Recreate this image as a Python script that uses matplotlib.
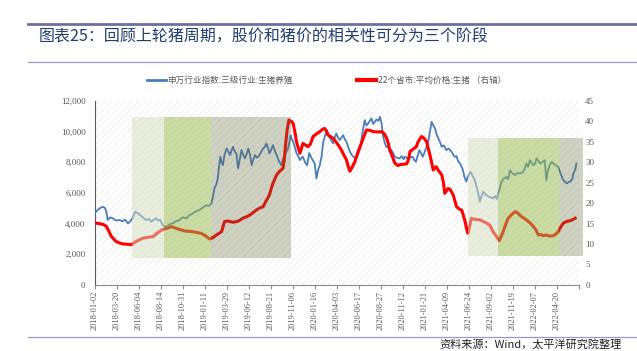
import matplotlib
matplotlib.use('Agg')
import matplotlib.pyplot as plt
from matplotlib.patches import Rectangle
from matplotlib.lines import Line2D
from matplotlib.ticker import FuncFormatter

plt.rcParams['font.family'] = ['Noto Sans CJK SC', 'DejaVu Sans']
plt.rcParams['hatch.linewidth'] = 0.5

# 横轴标签（按交易日序号，每52个交易日一个）
date_labels = ['2018-01-02', '2018-03-20', '2018-06-04', '2018-08-14', '2018-10-31',
               '2019-01-11', '2019-03-29', '2019-06-12', '2019-08-21', '2019-11-06',
               '2020-01-16', '2020-04-03', '2020-06-17', '2020-08-27', '2020-11-12',
               '2021-01-21', '2021-04-09', '2021-06-24', '2021-09-02', '2021-11-19',
               '2022-02-07', '2022-04-20']
label_step = 52

# 申万行业指数:三级行业:生猪养殖（左轴）
stock_day = [0, 6, 12, 20, 25, 28, 31, 37, 43, 50, 59, 66, 72, 79, 87, 92, 96, 103, 110, 116,
             122, 128, 134, 140, 146, 150, 155, 161, 166, 170, 177, 185, 192, 201, 208, 217, 224, 232, 240, 248,
             256, 264, 270, 276, 280, 283, 287, 291, 294, 297, 300, 303, 307, 312, 316, 320, 324, 327, 331, 335,
             339, 343, 347, 351, 355, 359, 363, 367, 371, 375, 379, 383, 387, 392, 398, 402, 406, 410, 413, 417,
             421, 425, 430, 435, 441, 445, 449, 453, 457, 460, 463, 466, 469, 473, 477, 481, 485, 489, 492, 497,
             502, 507, 512, 516, 520, 524, 528, 532, 536, 540, 548, 552, 556, 560, 563, 567, 571, 575, 579, 583,
             587, 591, 595, 599, 603, 607, 611, 615, 618, 622, 627, 632, 638, 642, 646, 650, 654, 658, 662, 666,
             670, 674, 678, 681, 685, 689, 693, 697, 701, 705, 709, 713, 720, 725, 730, 733, 737, 741, 745, 751,
             755, 759, 763, 767, 771, 775, 780, 784, 788, 792, 796, 800, 804, 808, 812, 816, 820, 825, 831, 836,
             843, 847, 851, 855, 858, 863, 867, 870, 874, 878, 882, 888, 893, 898, 903, 906, 910, 914, 918, 923,
             930, 936, 941, 946, 950, 953, 957, 961, 966, 973, 977, 981, 986, 993, 998, 1005, 1012, 1016, 1020, 1024,
             1028, 1031, 1036, 1040, 1044, 1048, 1052, 1057, 1063, 1067, 1071, 1075, 1079, 1084, 1095, 1100, 1107, 1115, 1119, 1123,
             1128, 1131, 1136, 1138]
stock_val = [4660, 4850, 4990, 5100, 5000, 4770, 4230, 4400, 4340, 4200, 4230, 4150, 4250, 4010, 4230, 4500, 4770, 4660, 4500, 4350,
             4230, 4300, 4120, 4250, 4340, 4200, 4230, 3900, 3800, 3790, 3950, 4010, 4150, 4230, 4400, 4340, 4550, 4660, 4800, 4880,
             5050, 5200, 5150, 5320, 5800, 6290, 6500, 6940, 7700, 8360, 8000, 7810, 8500, 8900, 8700, 8470, 8800, 9010, 8700, 8580,
             7600, 8200, 8790, 8500, 8250, 8500, 8900, 8500, 7810, 8200, 8470, 8300, 8360, 8600, 8900, 9000, 9230, 8900, 8580, 8800,
             9120, 8800, 8470, 8100, 7810, 8200, 8470, 8700, 8900, 9300, 9770, 9500, 9340, 9000, 8580, 8400, 8140, 8300, 8360, 8000,
             7800, 8600, 8300, 8100, 7900, 6940, 7500, 7810, 8360, 9300, 10100, 9800, 9560, 9400, 9230, 9600, 9880, 9600, 9450, 9600,
             9770, 9500, 9340, 9000, 8690, 8500, 8360, 8300, 8250, 8500, 8900, 9800, 10750, 10400, 10530, 10700, 10870, 10500, 10640, 10800,
             10700, 10970, 10500, 9770, 9300, 9010, 9000, 8900, 8790, 8600, 8360, 8300, 8250, 8400, 8200, 8360, 8300, 8140, 8300, 8360,
             8150, 8030, 8400, 8790, 8600, 8360, 8700, 9000, 9340, 10000, 10640, 10400, 10200, 9800, 9560, 9300, 9010, 9100, 8790, 8900,
             8690, 8500, 8360, 8400, 8100, 7920, 7700, 7480, 7000, 6730, 7100, 7370, 7100, 6830, 6300, 6000, 5420, 5800, 6080, 5900,
             5760, 5700, 5640, 5800, 5600, 5970, 6300, 6730, 6900, 7050, 6900, 7480, 7300, 7160, 7300, 7270, 7370, 7600, 7920, 7700,
             8140, 8000, 7810, 7900, 8250, 8100, 7920, 8000, 8140, 6830, 7500, 7810, 8030, 7900, 7700, 7300, 6830, 6620, 6700, 6730,
             6900, 7270, 7600, 7920]

# 22个省市:平均价格:生猪（右轴）
pig_day = [4, 20, 28, 40, 51, 60, 67, 80, 87, 98, 114, 130, 138, 146, 153, 160, 170, 181, 186, 193,
           212, 232, 252, 262, 272, 280, 288, 300, 307, 315, 327, 340, 350, 358, 367, 375, 382, 390, 398, 405,
           413, 420, 430, 437, 445, 448, 451, 455, 459, 465, 469, 473, 477, 481, 485, 489, 492, 497, 504, 510,
           516, 525, 532, 538, 543, 547, 551, 557, 563, 570, 577, 583, 590, 595, 599, 603, 607, 615, 622, 630,
           635, 642, 650, 658, 668, 678, 684, 690, 694, 697, 703, 709, 716, 721, 728, 737, 741, 745, 752, 760,
           764, 772, 777, 784, 788, 792, 796, 800, 803, 807, 812, 820, 824, 827, 831, 835, 840, 847, 851, 855,
           862, 867, 871, 875, 879, 882, 886, 890, 898, 910, 918, 926, 934, 941, 948, 956, 960, 965, 971, 977,
           985, 993, 998, 1008, 1016, 1024, 1030, 1036, 1042, 1048, 1055, 1060, 1067, 1075, 1083, 1088, 1095, 1100, 1107, 1115,
           1123, 1130, 1135]
pig_val = [15.1, 14.8, 14.3, 11.8, 10.6, 10.2, 10.0, 9.9, 9.8, 10.6, 11.4, 11.7, 11.8, 12.5, 13.0, 13.5, 13.8, 14.2, 14.1, 13.8,
           13.2, 13.0, 12.6, 12.0, 11.2, 11.6, 12.2, 13.0, 15.5, 15.6, 15.3, 15.6, 16.3, 16.6, 17.1, 17.7, 18.3, 18.8, 19.1, 20.5,
           22.0, 24.5, 26.9, 27.8, 28.5, 30.5, 34.2, 38.0, 40.3, 40.0, 39.5, 37.5, 35.0, 33.5, 32.2, 33.5, 34.6, 34.3, 33.8, 34.5,
           36.3, 37.0, 37.5, 38.0, 38.3, 37.8, 36.7, 36.3, 35.9, 35.0, 34.0, 33.0, 31.5, 30.6, 29.0, 27.8, 28.5, 30.2, 32.5, 34.6,
           36.0, 37.9, 37.8, 37.5, 37.4, 37.5, 37.0, 35.9, 34.5, 33.0, 31.5, 29.8, 29.2, 29.4, 29.5, 29.6, 30.5, 32.6, 33.2, 33.8,
           35.0, 36.3, 36.0, 35.1, 33.5, 31.8, 30.0, 28.1, 28.6, 28.9, 28.0, 26.9, 25.0, 22.4, 23.0, 23.6, 23.3, 22.0, 20.5, 19.1,
           18.5, 18.3, 17.0, 15.5, 13.5, 12.6, 14.5, 16.3, 16.0, 15.9, 15.5, 15.1, 14.5, 13.0, 12.0, 10.8, 11.8, 13.0, 14.8, 16.3,
           17.2, 17.9, 17.7, 16.7, 16.2, 15.5, 15.0, 14.3, 13.5, 12.2, 12.3, 12.0, 12.2, 11.9, 12.0, 12.3, 13.0, 14.0, 15.1, 15.5,
           15.7, 16.0, 16.3]

# 三个阶段阴影（交易日序号，右轴数值）
stage_start = [89, 163, 276, 881, 953, 1096]
stage_end = [163, 276, 465, 953, 1096, 1153]
stage_top = [41.0, 41.0, 41.0, 35.9, 35.9, 35.9]
stage_bottom = [6.5, 6.5, 6.5, 7.0, 7.0, 7.0]
stage_color = ['#d5ddbd', '#97b94b', '#62693a', '#d5ddbd', '#97b94b', '#62693a']
stage_alpha = [0.5, 0.5, 0.3, 0.5, 0.5, 0.3]

blue = '#4a7ebb'
gray = '#595959'

fig = plt.figure(figsize=(6.37, 3.51), dpi=100)
ax = fig.add_axes([0.1484, 0.1886, 0.7605, 0.5237])
ax2 = ax.twinx()

# 浅色斜纹底纹
ax.add_patch(Rectangle((0, 0), 1, 1, transform=ax.transAxes, facecolor='none',
                       edgecolor='#e8e8e8', hatch='/////', lw=0, zorder=0))

ax.plot(stock_day, stock_val, color=blue, lw=1.3, zorder=3)
ax2.plot(pig_day, pig_val, color='#ff0000', lw=2.2, zorder=3)

for s, e, t, b, c, a in zip(stage_start, stage_end, stage_top, stage_bottom, stage_color, stage_alpha):
    ax2.add_patch(Rectangle((s, b), e - s, t - b, facecolor=c, alpha=a, lw=0,
                            zorder=4, clip_on=False))

ax.set_xlim(0, 22 * label_step)
ax.set_ylim(0, 12000)
ax2.set_ylim(0, 45)

ticks = [i * label_step for i in range(len(date_labels) + 1)]
ax.set_xticks(ticks)
ax.set_xticklabels(date_labels + [''], rotation=90)
ax.set_yticks(range(0, 12001, 2000))
ax.yaxis.set_major_formatter(FuncFormatter(lambda v, p: f'{int(v):,}'))
ax2.set_yticks(range(0, 46, 5))

for sp in ['top', 'right']:
    ax.spines[sp].set_visible(False)
for sp in ax2.spines.values():
    sp.set_visible(False)
ax.spines['left'].set_color(gray)
ax.spines['bottom'].set_color('#8c8c8c')

ax.tick_params(axis='x', length=3, width=0.8, color='#8c8c8c', pad=1.5,
               labelsize=6, labelcolor=gray, labelfontfamily='Liberation Serif')
ax.tick_params(axis='y', length=0, pad=6.5, labelsize=6.5, labelcolor=gray,
               labelfontfamily='Liberation Serif')
ax2.tick_params(axis='y', length=0, pad=4.5, labelsize=6.5, labelcolor=gray,
                labelfontfamily='Liberation Serif')

# 标题和分隔线
fig.add_artist(Line2D([28 / 637, 1], [1 - 24.3 / 351] * 2, color='#6f6f9f', lw=2.0))
fig.add_artist(Line2D([28 / 637, 1], [1 - 62 / 351] * 2, color='#9a9ac8', lw=0.9))
fig.add_artist(Line2D([28 / 637, 1], [1 - 337 / 351] * 2, color='#9a9ac8', lw=0.9))
fig.text(39 / 637, 1 - 37 / 351, '图表25：回顾上轮猪周期，股价和猪价的相关性可分为三个阶段',
         fontsize=11.5, color='#1f3f6e', ha='left', va='center')
fig.text(622 / 637, 1 - 344 / 351, '资料来源：Wind，太平洋研究院整理',
         fontsize=8, color='#222222', ha='right', va='center')

handles = [Line2D([], [], color=blue, lw=2), Line2D([], [], color='#ff0000', lw=3)]
fig.legend(handles, ['申万行业指数:三级行业:生猪养殖', '22个省市:平均价格:生猪 （右轴）'],
           loc='center', bbox_to_anchor=(0.5126, 1 - 80.7 / 351), ncol=2, frameon=False,
           fontsize=6.2, handlelength=2.2, handletextpad=0.2, columnspacing=7.5,
           labelcolor=gray, borderaxespad=0)

fig.savefig('out.png', dpi=100)
